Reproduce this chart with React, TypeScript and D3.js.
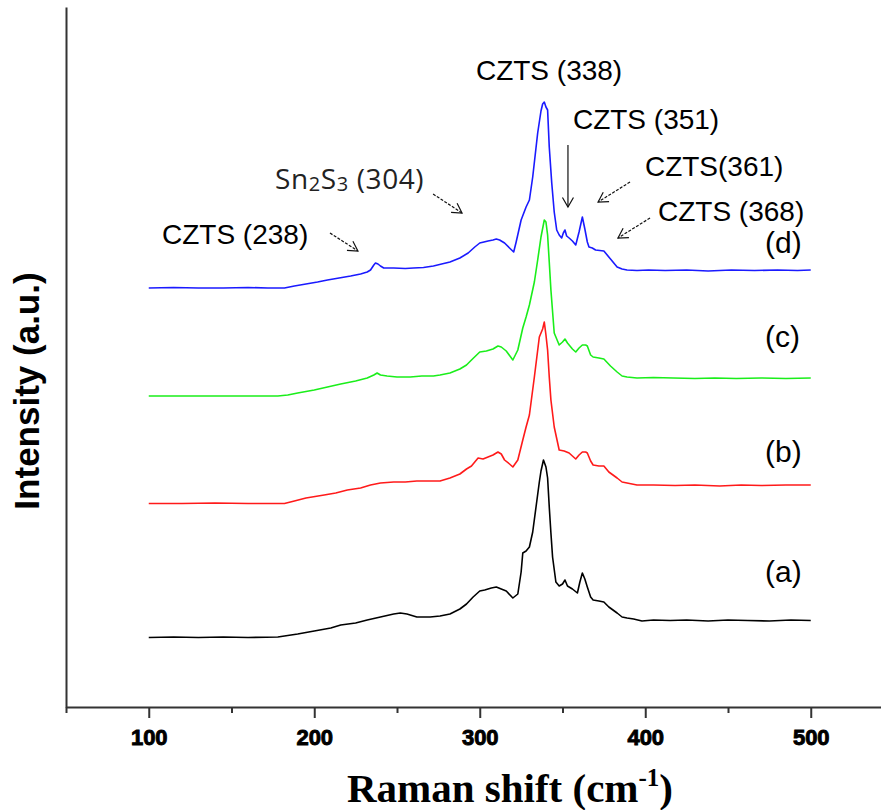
import { useRef, useEffect } from 'react'
import * as d3 from 'd3'

// Raman shift ticks (cm-1)
const shiftTicks = [100, 200, 300, 400, 500]
const minorTicks = [50, 150, 250, 350, 450, 550]

// spectra: [raman shift, intensity (a.u., stacked)]
const sampleA: [number, number][] = [
  [100, 69.5], [115, 70], [130, 69.5], [145, 70], [160, 69.5], [178, 70], [182, 71], [190, 73],
  [200, 76], [210, 79], [216, 82], [225, 84], [232, 87], [240, 90], [248, 93], [252, 94],
  [256, 93], [262, 90], [270, 90], [276, 91], [282, 93], [288, 98], [292, 103], [296, 110],
  [300, 116], [303, 117], [307, 119], [310, 120], [313, 118], [316, 116], [320, 109], [323, 113],
  [325, 135], [326, 154], [328, 156], [330, 160], [332, 175], [334, 200], [336, 225], [337, 236],
  [338.5, 247], [340, 240], [341, 229], [342, 200], [343, 174], [344, 150], [346, 125], [348, 121],
  [350, 123], [351.5, 127], [353, 121], [356, 118], [359, 114], [360.5, 125], [362, 134], [363.5, 128],
  [365, 120], [367, 110], [368.5, 107], [372, 106], [375, 105], [378, 100], [383, 94], [386, 90],
  [389, 89], [393, 88], [398, 86], [405, 87], [415, 86.5], [425, 87], [438, 86], [450, 87],
  [462, 86.5], [475, 86], [488, 87], [500, 86.5],
]

const sampleB: [number, number][] = [
  [100, 203.5], [120, 203.5], [140, 204], [160, 203.5], [182, 203.5], [188, 206], [195, 209],
  [206, 212], [213, 214], [220, 217], [228, 219], [234, 222], [240, 224], [248, 225], [255, 225],
  [262, 226], [270, 226], [276, 226], [282, 229], [288, 233], [292, 238], [295, 241], [299, 249],
  [302, 248], [305, 250], [308, 252], [311, 255], [313, 253], [315, 247], [318, 243], [320, 240],
  [323, 247], [326, 267], [328, 280], [330, 292], [333, 330], [336, 370], [338, 378], [339, 385],
  [340, 372], [341, 357], [342, 330], [343, 307], [345, 280], [348, 257], [351, 256], [354, 254],
  [356, 251], [358, 248], [360, 252], [362, 255], [364, 255], [365, 254], [367, 246], [368.5, 242],
  [372, 241], [375, 241], [378, 235], [383, 229], [386, 225], [389, 224], [395, 222], [405, 222],
  [418, 221.5], [430, 222], [445, 221], [458, 222], [470, 221.5], [485, 222], [500, 222],
]

const sampleC: [number, number][] = [
  [100, 311], [125, 311], [150, 311], [178, 311], [184, 312], [190, 314], [200, 317], [208, 320],
  [216, 323], [225, 326], [232, 329], [236, 332], [238, 334], [240, 332], [244, 331], [250, 330],
  [258, 330], [265, 331], [272, 331], [276, 332], [282, 334], [288, 338], [292, 342], [295, 347],
  [300, 355], [304, 356], [308, 358], [311, 361], [313, 360], [316, 356], [320, 347], [323, 357],
  [326, 379], [328, 390], [330, 402], [333, 425], [335, 447], [337, 470], [339, 487], [340, 485],
  [341, 472], [342, 445], [343, 417], [345, 374], [348, 362], [350, 365], [351.5, 368], [353, 364],
  [356, 358], [358, 355], [360, 359], [362, 362], [364, 362], [365, 361], [367, 352], [368.5, 350],
  [372, 349], [375, 348], [379, 341], [383, 335], [386, 331], [389, 330], [395, 329], [405, 329.5],
  [417, 329], [430, 328.5], [442, 329], [455, 328.5], [470, 329], [485, 328.5], [500, 329],
]

const sampleD: [number, number][] = [
  [100, 419], [115, 419.5], [130, 419], [145, 419], [160, 419.5], [172, 419], [182, 419], [188, 421],
  [195, 423], [202, 425], [208, 427], [215, 429], [222, 431], [228, 433], [232, 435], [234, 437],
  [236, 442], [237, 444], [238.5, 443], [240, 441], [242, 439], [248, 439], [255, 438.5], [260, 439],
  [266, 439.5], [272, 441], [277, 443], [282, 445], [288, 449], [293, 454], [297, 460], [300, 464],
  [305, 466], [308, 467], [310, 468], [312, 467], [315, 464], [318, 459], [320.5, 455], [322, 465],
  [325, 487], [328, 500], [330, 507], [332, 530], [335, 574], [337, 596], [338, 603], [339, 605],
  [340, 600], [341, 597], [342, 560], [343.5, 524], [345, 495], [346.5, 477], [348, 472], [349.5, 469],
  [350.5, 474], [351.5, 477], [352.5, 471], [354, 469], [356, 466], [358, 462], [360, 475], [362, 490],
  [363.5, 478], [365, 465], [366, 460], [368, 459], [370, 457], [375, 456], [379, 448], [383, 440],
  [386, 438], [389, 437], [395, 436.5], [402, 437], [412, 436.5], [425, 437], [438, 436], [452, 437],
  [466, 436.5], [480, 437], [492, 436.5], [500, 437],
]

const seriesNames = ['(a)', '(b)', '(c)', '(d)']
const seriesData = [sampleA, sampleB, sampleC, sampleD]
const seriesColors = ['#000000', '#ff1a1a', '#1aee1a', '#1a1aff']

// peak labels, placed in data units
const peakLabels = [
  { text: 'CZTS (338)', at: [297.7, 627] },
  { text: 'CZTS (351)', at: [356.3, 578] },
  { text: 'CZTS(361)', at: [399.8, 531] },
  { text: 'CZTS (368)', at: [407.7, 486] },
  { text: 'CZTS (238)', at: [108, 463] },
]
const seriesLabelPos = [[472.4, 125], [472.4, 245], [472.4, 360], [472.4, 454]]

// arrows: [from, to, dashed]
const arrows: [number[], number[], boolean][] = [
  [[209.5, 474], [226.4, 456], true],
  [[271.8, 513], [289.3, 494], true],
  [[353.3, 562], [353.3, 500], false],
  [[390.8, 525], [371.5, 505], true],
  [[402.9, 489], [383.5, 469], true],
]

const App = () => {
  const svgRef = useRef<SVGSVGElement>(null)

  useEffect(() => {
    const svg = d3.select(svgRef.current)
    svg.selectAll('*').remove()

    const x = d3.scaleLinear().domain([50, 550]).range([66, 893.5])
    const y = d3.scaleLinear().domain([0, 700]).range([707, 7])

    // y axis: plain line, no ticks
    const yAxisG = svg.append('g').attr('transform', `translate(${x(50)},0)`)
      .call(d3.axisLeft(y).tickValues([]).tickSizeOuter(0))
    yAxisG.select('.domain').attr('stroke', '#333').attr('stroke-width', 2)

    // x axis, minor ticks first
    const minorG = svg.append('g').attr('transform', `translate(0,${y(0)})`)
      .call(d3.axisBottom(x).tickValues(minorTicks).tickSize(6).tickFormat(() => ''))
    minorG.select('.domain').remove()
    minorG.selectAll('.tick line').attr('stroke', '#333').attr('stroke-width', 2)

    const xAxisG = svg.append('g').attr('transform', `translate(0,${y(0)})`)
      .call(d3.axisBottom(x).tickValues(shiftTicks).tickSize(11).tickSizeOuter(0).tickFormat(d3.format('d')))
    xAxisG.select('.domain').attr('stroke', '#333').attr('stroke-width', 2)
    xAxisG.selectAll('.tick line').attr('stroke', '#333').attr('stroke-width', 2)
    xAxisG.selectAll('.tick text')
      .attr('y', 38).attr('dy', 0)
      .attr('font-family', 'Liberation Sans, Arial, sans-serif')
      .attr('font-size', 22).attr('font-weight', 'bold')
      .attr('fill', '#000').attr('stroke', '#000').attr('stroke-width', 0.9)

    // spectra
    const lineGen = d3.line<[number, number]>()
      .x((d) => x(d[0]))
      .y((d) => y(d[1]))

    seriesData.forEach((data, i) => {
      svg.append('path')
        .attr('d', lineGen(data))
        .attr('fill', 'none')
        .attr('stroke', seriesColors[i])
        .attr('stroke-width', 1.6)
        .style('stroke-linejoin', 'round')
    })

    const annFont = 'Liberation Sans, Arial, sans-serif'

    seriesNames.forEach((name, i) => {
      svg.append('text')
        .attr('x', x(seriesLabelPos[i][0]))
        .attr('y', y(seriesLabelPos[i][1]))
        .attr('font-family', annFont)
        .attr('font-size', 30)
        .attr('fill', '#000')
        .text(name)
    })

    peakLabels.forEach((p) => {
      svg.append('text')
        .attr('x', x(p.at[0]))
        .attr('y', y(p.at[1]))
        .attr('font-family', annFont)
        .attr('font-size', 28)
        .attr('fill', '#000')
        .text(p.text)
    })

    // Sn2S3 label with subscripts
    const sn = svg.append('text')
      .attr('x', x(176.3))
      .attr('y', y(518))
      .attr('font-family', 'Open Sans, Liberation Sans, sans-serif')
      .attr('font-size', 28)
      .attr('letter-spacing', 0.6)
      .attr('fill', '#222')
    sn.append('tspan').text('Sn')
    sn.append('tspan').attr('font-size', 20).attr('dy', 2).text('2')
    sn.append('tspan').attr('dy', -2).text('S')
    sn.append('tspan').attr('font-size', 20).attr('dy', 2).text('3')
    sn.append('tspan').attr('dy', -2).text(' (304)')

    arrows.forEach(([from, to, dashed]) => {
      const x1 = x(from[0]), y1 = y(from[1])
      const x2 = x(to[0]), y2 = y(to[1])
      const ang = Math.atan2(y2 - y1, x2 - x1)
      const g = svg.append('g').attr('stroke', '#111').attr('fill', 'none').attr('stroke-width', 1.2)
      g.append('line')
        .attr('x1', x1).attr('y1', y1).attr('x2', x2).attr('y2', y2)
        .attr('stroke-dasharray', dashed ? '3,1.5' : null)
      const head = 11
      const spread = Math.PI / 6
      const pts: [number, number][] = [
        [x2 - head * Math.cos(ang - spread), y2 - head * Math.sin(ang - spread)],
        [x2, y2],
        [x2 - head * Math.cos(ang + spread), y2 - head * Math.sin(ang + spread)],
      ]
      g.append('path').attr('d', d3.line()(pts))
    })

    // axis titles
    svg.append('text')
      .attr('x', 510)
      .attr('y', 802)
      .attr('text-anchor', 'middle')
      .attr('font-family', 'Liberation Serif, Times New Roman, serif')
      .attr('font-weight', 'bold')
      .attr('font-size', 41)
      .attr('fill', '#000')
      .call((t) => {
        t.append('tspan').text('Raman shift (cm')
        t.append('tspan').attr('font-size', 25).attr('dy', -16).text('-1')
        t.append('tspan').attr('dy', 16).text(')')
      })

    svg.append('text')
      .attr('transform', 'translate(39,391) rotate(-90)')
      .attr('text-anchor', 'middle')
      .attr('font-family', 'Liberation Sans, Arial, sans-serif')
      .attr('font-weight', 'bold')
      .attr('font-size', 35)
      .attr('fill', '#000')
      .text('Intensity (a.u.)')
  }, [])

  return (
    <div>
      <svg
        ref={svgRef}
        width={881}
        height={810}
        style={{ position: 'absolute', left: 0, top: 0, background: '#fff' }}
      ></svg>
    </div>
  )
}

export default App
